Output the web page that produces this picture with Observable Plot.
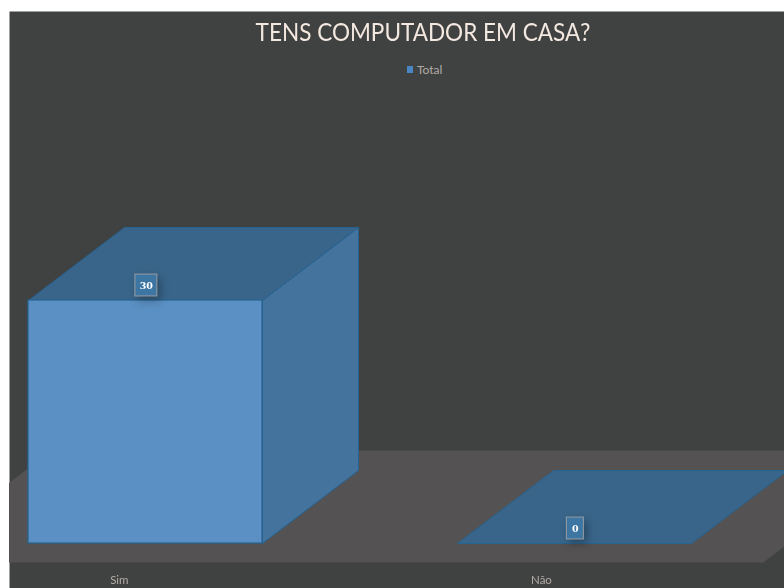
<!DOCTYPE html>
<html><head><meta charset="utf-8">
<script src="https://cdn.jsdelivr.net/npm/d3@7"></script>
<script src="https://cdn.jsdelivr.net/npm/@observablehq/plot@0.6"></script>
<style>
html,body{margin:0;padding:0;background:#fff;}
#wrap{position:relative;width:784px;height:588px;overflow:hidden;}
#title{position:absolute;left:0;width:846px;top:16px;text-align:center;font:25.5px Lato,sans-serif;color:#f4e9e1;z-index:2;transform:scaleX(.884);}
#legend{position:absolute;left:407px;top:62px;font:12px Lato,sans-serif;color:#b3aca7;display:flex;align-items:center;gap:4px;z-index:2;}
#legend i{display:block;width:6px;height:7px;background:#4a86c4;}
svg{display:block;position:absolute;left:0;top:0;filter:blur(.35px);}
</style></head><body>
<div id="wrap">
<div id="title"></div>
<div id="legend"><i></i><span id="legendText"></span></div>
</div>
<script>
const categories = ["Sim", "Não"];
const values = [30, 0];
const titleText = "TENS COMPUTADOR EM CASA?";
const legendLabel = "Total";
const categoryTicks = [-0.061, 0.923];
const floorX = [-0.562, 1.44, 1.783, -0.219];
const floorY = [-2.35, -2.35, 11.48, 11.48];
const halfWidth = 0.2727, depthX = 0.2238, depthY = 9.01;

document.getElementById("title").textContent = titleText;
document.getElementById("legendText").textContent = legendLabel;

const bars = categories.map((c, i) => ({c, i, v: values[i]}));
const poly = (face, i, pts) => pts.map(([x, y]) => ({face: face + i, x, y}));
const tops = bars.flatMap(b => {
  const l = b.i - halfWidth, r = b.i + halfWidth;
  return poly("top", b.i, [[l, b.v], [l + depthX, b.v + depthY], [r + depthX, b.v + depthY], [r, b.v], [l, b.v]]);
});
const sides = bars.filter(b => b.v > 0).flatMap(b => {
  const r = b.i + halfWidth;
  return poly("side", b.i, [[r, 0], [r + depthX, depthY], [r + depthX, b.v + depthY], [r, b.v], [r, 0]]);
});
const floor = floorX.map((x, i) => ({x, y: floorY[i]}));
const edge = "#266492";
const boxHalf = b => b.v > 0 ? 0.0256 : 0.0198;

const chart = Plot.plot({
  width: 784, height: 588,
  marginLeft: 9, marginTop: 11, marginRight: 0, marginBottom: 0,
  x: {domain: [0, 1], range: [145, 574], axis: null},
  y: {domain: [0, 30], range: [543, 300], axis: null},
  style: {background: "#fff"},
  marks: [
    Plot.frame({fill: "#404141", stroke: "none"}),
    Plot.line(floor.concat(floor[0]), {x: "x", y: "y", fill: "#545252", stroke: "none", clip: true}),
    Plot.line(sides, {x: "x", y: "y", z: "face", fill: "#44739e", stroke: edge, strokeWidth: 1, clip: true}),
    Plot.line(tops, {x: "x", y: "y", z: "face", fill: "#39658a", stroke: edge, strokeWidth: 1, clip: true}),
    Plot.rect(bars.filter(b => b.v > 0), {
      x1: b => b.i - halfWidth, x2: b => b.i + halfWidth, y1: 0, y2: "v",
      fill: "#5b90c4", stroke: edge, strokeWidth: 1.2
    }),
    Plot.rect(bars, {
      x1: b => b.i + 0.002 - boxHalf(b), x2: b => b.i + 0.002 + boxHalf(b),
      y1: b => b.v + 0.5, y2: b => b.v + 3.2,
      fill: "#3d75a3", stroke: "#979da3", strokeWidth: 1,
      imageFilter: "drop-shadow(3px 4px 4px rgba(0,0,0,.3))"
    }),
    Plot.text(bars, {
      x: b => b.i + 0.002, y: b => b.v + 1.85, text: b => String(b.v),
      fill: "#fff", fontFamily: "DejaVu Serif", fontWeight: "bold", fontSize: 9.5
    }),
    Plot.axisX({
      ticks: categoryTicks, tickSize: 0, tickPadding: -13,
      tickFormat: (d) => categories[categoryTicks.indexOf(d)],
      fontFamily: "Lato, sans-serif", fontSize: 11.5, color: "#b3aca7", label: null
    })
  ]
});
document.getElementById("wrap").append(chart);
</script>
</body></html>
